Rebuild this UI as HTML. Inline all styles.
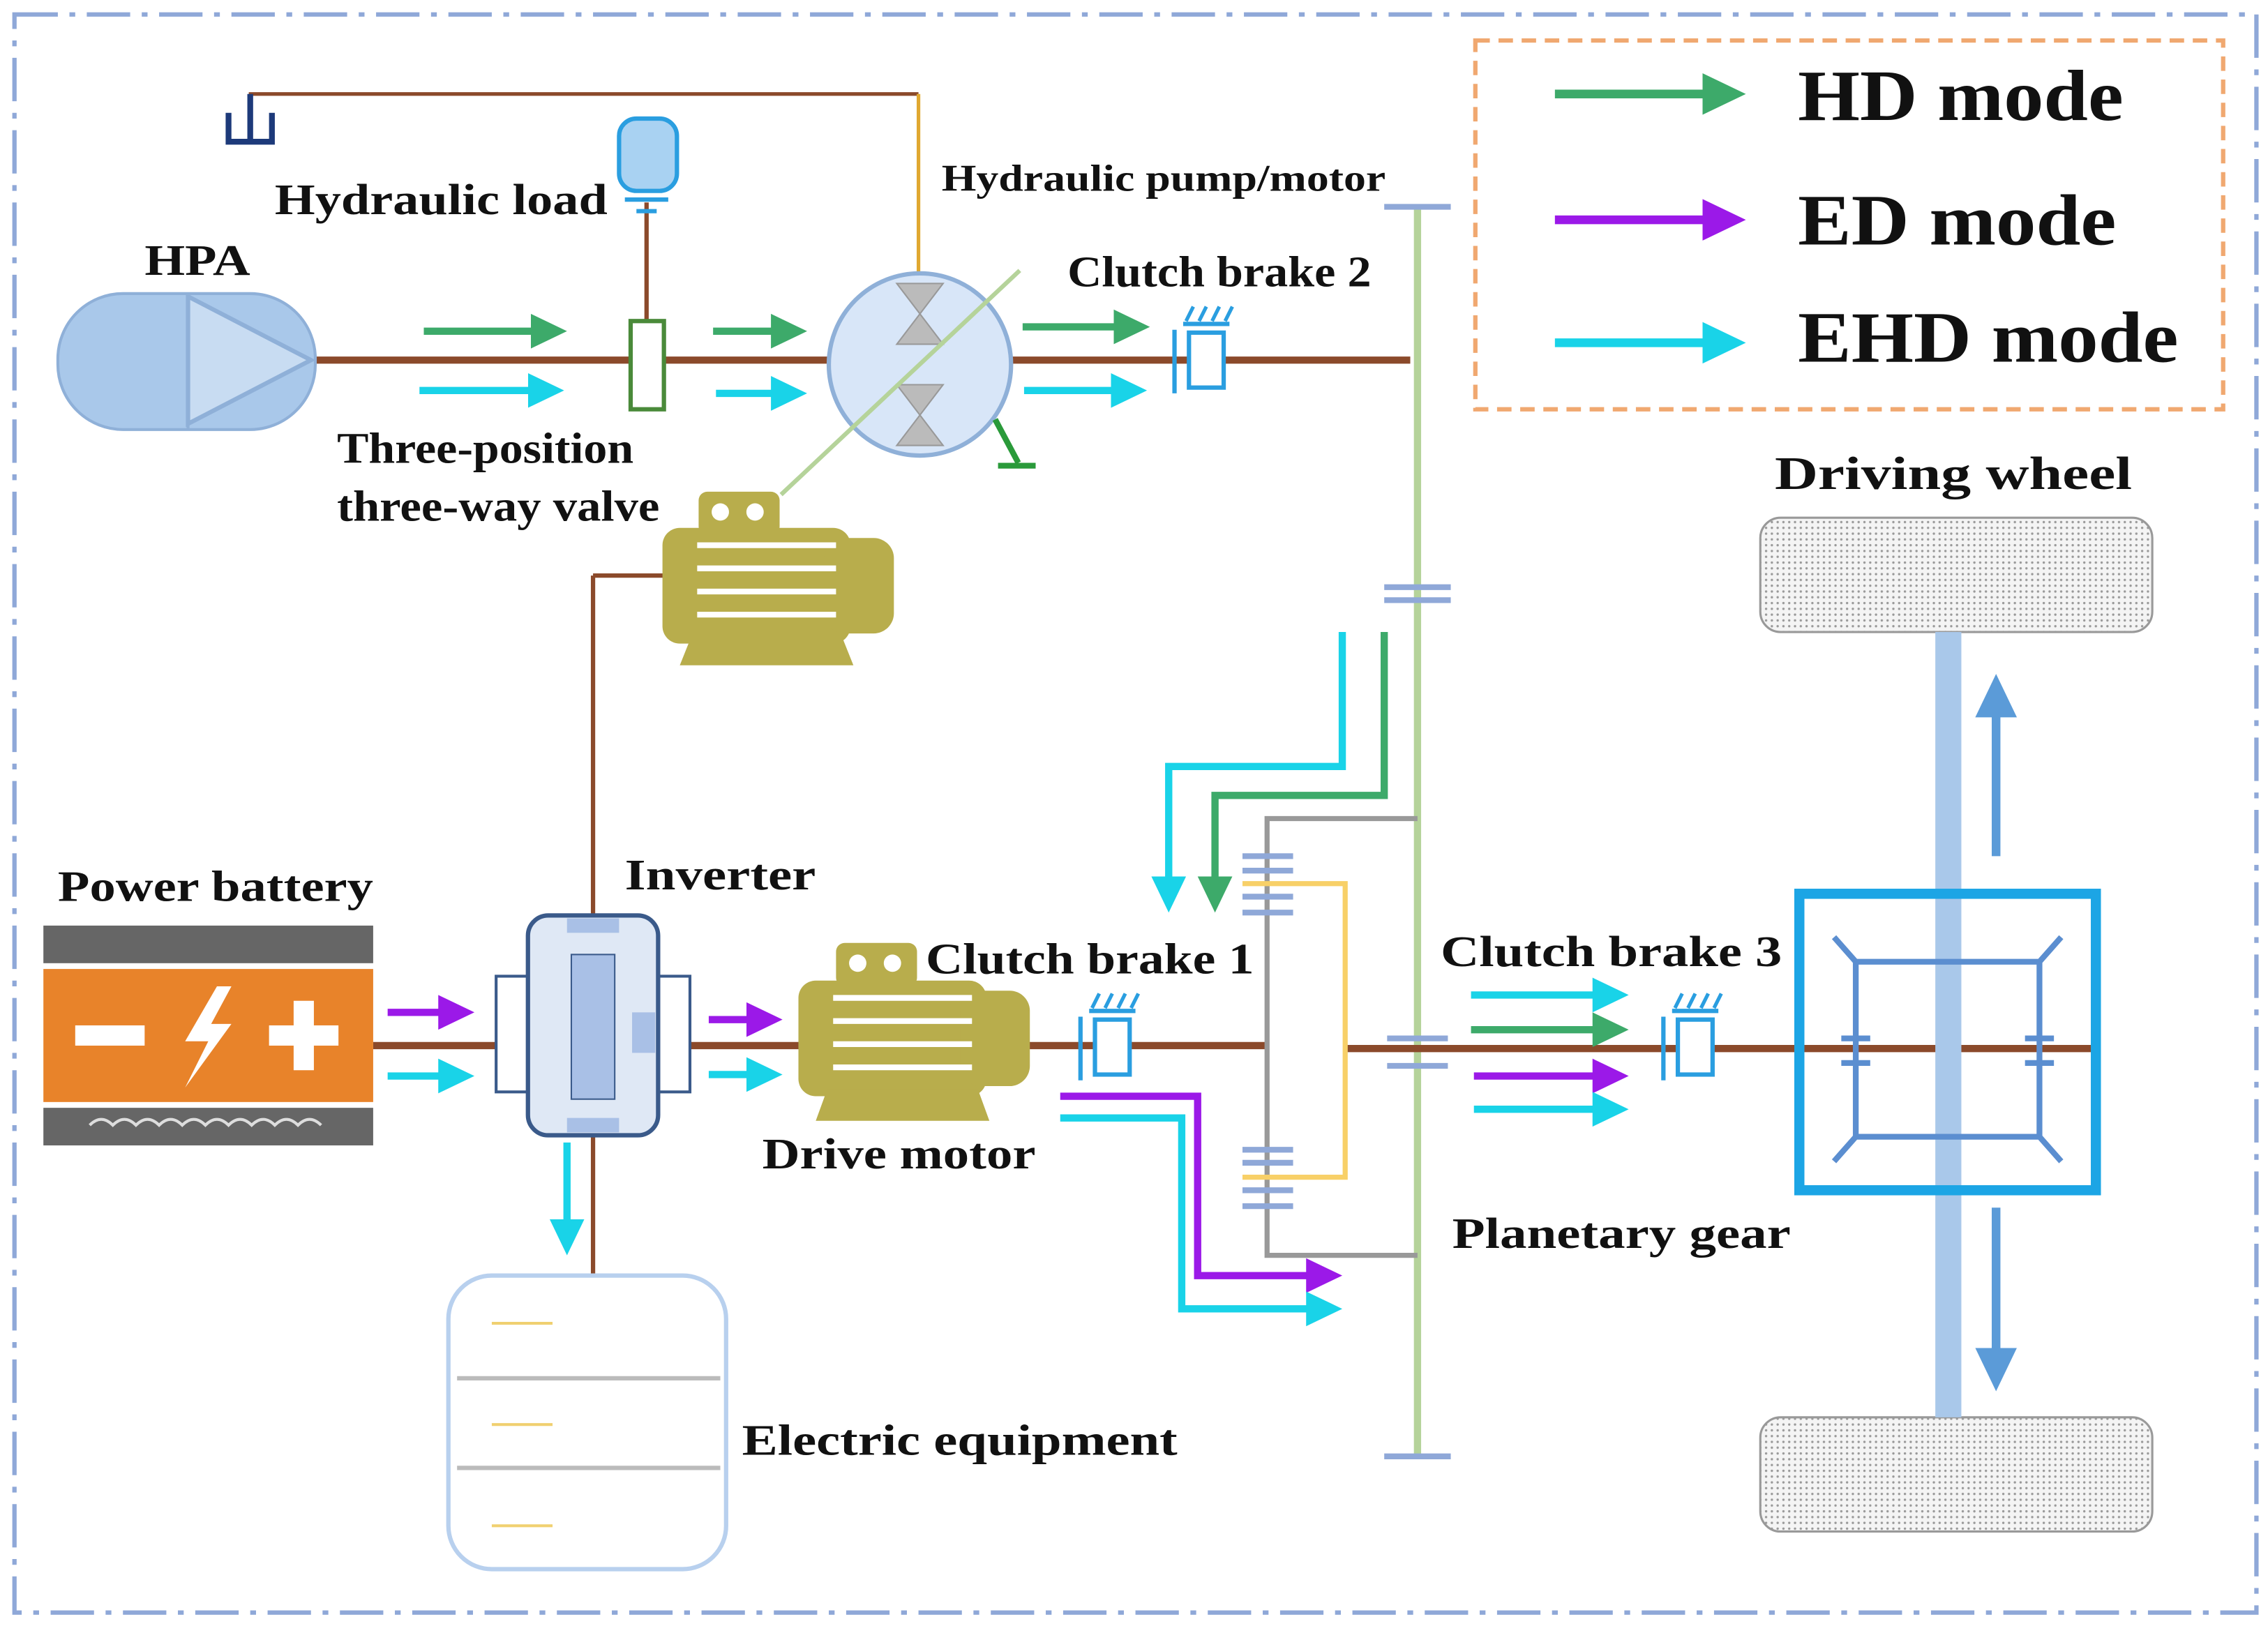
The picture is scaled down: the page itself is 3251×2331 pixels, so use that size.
<!DOCTYPE html>
<html><head><meta charset="utf-8"><style>
html,body{margin:0;padding:0;background:#fff;}
svg{display:block;}
text{font-family:"Liberation Serif",serif;font-weight:bold;fill:#111;}
</style></head><body>
<svg width="3251" height="2331" viewBox="0 0 1568 1124.3" preserveAspectRatio="none" xmlns="http://www.w3.org/2000/svg">
<defs>
<marker id="ag" markerWidth="6" markerHeight="6" refX="3" refY="3" orient="auto" markerUnits="strokeWidth"><path d="M0,0.6 L5,3 L0,5.4Z" fill="#3daa6a"/></marker>
<marker id="ac" markerWidth="6" markerHeight="6" refX="3" refY="3" orient="auto" markerUnits="strokeWidth"><path d="M0,0.6 L5,3 L0,5.4Z" fill="#19d3e8"/></marker>
<marker id="ap" markerWidth="6" markerHeight="6" refX="3" refY="3" orient="auto" markerUnits="strokeWidth"><path d="M0,0.6 L5,3 L0,5.4Z" fill="#9b19e8"/></marker>
<marker id="ab" markerWidth="6" markerHeight="6" refX="3" refY="3" orient="auto" markerUnits="strokeWidth"><path d="M0,0.6 L5,3 L0,5.4Z" fill="#5b9bd8"/></marker>
<pattern id="dots" width="4" height="4" patternUnits="userSpaceOnUse"><rect width="4" height="4" fill="#f4f4f4"/><circle cx="1" cy="1" r="0.8" fill="#999"/></pattern>
</defs>
<rect x="10" y="10" width="1550" height="1105" fill="none" stroke="#8fa8d8" stroke-width="3" stroke-dasharray="30,8,4,8"/>
<rect x="1020" y="28" width="517" height="255" fill="none" stroke="#f0a870" stroke-width="3" stroke-dasharray="10,6"/>
<line x1="1075" y1="65" x2="1195" y2="65" stroke="#3daa6a" stroke-width="6" marker-end="url(#ag)"/>
<line x1="1075" y1="152" x2="1195" y2="152" stroke="#9b19e8" stroke-width="6" marker-end="url(#ap)"/>
<line x1="1075" y1="237" x2="1195" y2="237" stroke="#19d3e8" stroke-width="6" marker-end="url(#ac)"/>
<g lengthAdjust="spacingAndGlyphs">
<text x="1243" y="83" font-size="50" textLength="225" lengthAdjust="spacingAndGlyphs">HD mode</text>
<text x="1243" y="169" font-size="50" textLength="220" lengthAdjust="spacingAndGlyphs">ED mode</text>
<text x="1243" y="250" font-size="50" textLength="263" lengthAdjust="spacingAndGlyphs">EHD mode</text>
</g>

<line x1="980" y1="143" x2="980" y2="1007" stroke="#b5d39a" stroke-width="5"/>
<line x1="957" y1="143" x2="1003" y2="143" stroke="#8fa8d8" stroke-width="4"/>
<line x1="957" y1="1007" x2="1003" y2="1007" stroke="#8fa8d8" stroke-width="4"/>
<line x1="957" y1="406" x2="1003" y2="406" stroke="#8fa8d8" stroke-width="4"/>
<line x1="957" y1="415" x2="1003" y2="415" stroke="#8fa8d8" stroke-width="4"/>
<line x1="959" y1="718" x2="1001" y2="718" stroke="#8fa8d8" stroke-width="4"/>
<line x1="959" y1="737" x2="1001" y2="737" stroke="#8fa8d8" stroke-width="4"/>

<polyline points="172,65 635,65" fill="none" stroke="#8b4a2b" stroke-width="2.5"/>
<polyline points="635,65 635,192" fill="none" stroke="#e0a830" stroke-width="2.5"/>
<path d="M158,78 V98 H188 V78 M173,65 V98" fill="none" stroke="#1d3a7a" stroke-width="4"/>

<line x1="218" y1="249" x2="975" y2="249" stroke="#8b4a2b" stroke-width="5"/>
<rect x="40" y="203" width="178" height="94" rx="45" fill="#a9c8ea" stroke="#8fb0d8" stroke-width="2"/>
<line x1="130" y1="203" x2="130" y2="297" stroke="#8fb0d8" stroke-width="2"/>
<path d="M130,205 L215,249 L130,293Z" fill="#c8dcf2" stroke="#8fb0d8" stroke-width="3"/>
<text x="100" y="190" font-size="30" textLength="73" lengthAdjust="spacingAndGlyphs">HPA</text>
<line x1="447" y1="140" x2="447" y2="222" stroke="#8b4a2b" stroke-width="3"/>
<rect x="428" y="82" width="40" height="50" rx="12" fill="#a9d2f2" stroke="#2a9ee0" stroke-width="3"/>
<line x1="432" y1="138" x2="462" y2="138" stroke="#2a9ee0" stroke-width="3"/>
<line x1="440" y1="146" x2="454" y2="146" stroke="#2a9ee0" stroke-width="3"/>
<text x="190" y="148" font-size="30" textLength="230" lengthAdjust="spacingAndGlyphs">Hydraulic load</text>
<rect x="436" y="222" width="23" height="61" fill="#fff" stroke="#4a8a3a" stroke-width="3"/>
<text x="233" y="320" font-size="30" textLength="205" lengthAdjust="spacingAndGlyphs">Three-position</text>
<text x="233" y="360" font-size="30" textLength="223" lengthAdjust="spacingAndGlyphs">three-way valve</text>
<circle cx="636" cy="252" r="63" fill="#d8e6f8" stroke="#8fb0d8" stroke-width="3"/>
<path d="M620,196 H652 L620,238 H652Z M620,266 H652 L620,308 H652Z" fill="#bbb" stroke="#999"/>
<line x1="540" y1="342" x2="705" y2="187" stroke="#b5d39a" stroke-width="3"/>
<path d="M688,290 L704,320" stroke="#2a9a3a" stroke-width="4" fill="none"/>
<path d="M690,322 H716" stroke="#2a9a3a" stroke-width="4"/>
<text x="651" y="132" font-size="26" textLength="307" lengthAdjust="spacingAndGlyphs">Hydraulic pump/motor</text>
<rect x="822" y="230" width="24" height="38" fill="#fff" stroke="#2a9ee0" stroke-width="3"/>
<line x1="812" y1="228" x2="812" y2="272" stroke="#2a9ee0" stroke-width="3"/>
<line x1="818" y1="224" x2="850" y2="224" stroke="#2a9ee0" stroke-width="3"/>
<path d="M820,222 l5,-10 M829,222 l5,-10 M838,222 l5,-10 M847,222 l5,-10" stroke="#2a9ee0" stroke-width="2.5"/>
<text x="738" y="198" font-size="30" textLength="210" lengthAdjust="spacingAndGlyphs">Clutch brake 2</text>
<g stroke-width="5">
<line x1="293" y1="229" x2="382" y2="229" stroke="#3daa6a" marker-end="url(#ag)"/>
<line x1="493" y1="229" x2="548" y2="229" stroke="#3daa6a" marker-end="url(#ag)"/>
<line x1="707" y1="226" x2="785" y2="226" stroke="#3daa6a" marker-end="url(#ag)"/>
<line x1="290" y1="270" x2="380" y2="270" stroke="#19d3e8" marker-end="url(#ac)"/>
<line x1="495" y1="272" x2="548" y2="272" stroke="#19d3e8" marker-end="url(#ac)"/>
<line x1="708" y1="270" x2="783" y2="270" stroke="#19d3e8" marker-end="url(#ac)"/>
</g>

<line x1="410" y1="398" x2="460" y2="398" stroke="#8b4a2b" stroke-width="3"/>
<line x1="410" y1="398" x2="410" y2="635" stroke="#8b4a2b" stroke-width="3"/>
<g>
<rect x="483" y="340" width="56" height="30" rx="6" fill="#b8ad4c"/>
<circle cx="498" cy="354" r="6" fill="#fff"/><circle cx="522" cy="354" r="6" fill="#fff"/>
<rect x="458" y="365" width="130" height="80" rx="12" fill="#b8ad4c"/>
<rect x="570" y="372" width="48" height="66" rx="14" fill="#b8ad4c"/>
<path d="M478,440 L470,460 H590 L582,440Z" fill="#b8ad4c"/>
<g stroke="#fff" stroke-width="4"><line x1="482" y1="377" x2="578" y2="377"/><line x1="482" y1="393" x2="578" y2="393"/><line x1="482" y1="409" x2="578" y2="409"/><line x1="482" y1="425" x2="578" y2="425"/></g>
</g>

<line x1="258" y1="723" x2="876" y2="723" stroke="#8b4a2b" stroke-width="5"/>
<line x1="930" y1="725" x2="1448" y2="725" stroke="#8b4a2b" stroke-width="5"/>
<rect x="30" y="640" width="228" height="26" fill="#666"/>
<rect x="30" y="670" width="228" height="92" fill="#e8832a"/>
<rect x="30" y="766" width="228" height="26" fill="#666"/>
<path d="M62,778 q8,-8 16,0 q8,-8 16,0 q8,-8 16,0 q8,-8 16,0 q8,-8 16,0 q8,-8 16,0 q8,-8 16,0 q8,-8 16,0 q8,-8 16,0 q8,-8 16,0" fill="none" stroke="#ddd" stroke-width="2"/>
<rect x="52" y="709" width="48" height="14" fill="#fff"/>
<rect x="186" y="709" width="48" height="14" fill="#fff"/><rect x="203" y="692" width="14" height="48" fill="#fff"/>
<path d="M150,682 L128,720 H144 L128,752 L160,708 H146 L160,682Z" fill="#fff"/>
<text x="40" y="623" font-size="30" textLength="218" lengthAdjust="spacingAndGlyphs">Power battery</text>
<line x1="410" y1="785" x2="410" y2="882" stroke="#8b4a2b" stroke-width="3"/>
<rect x="343" y="675" width="22" height="80" fill="#fff" stroke="#3a5a8a" stroke-width="2"/>
<rect x="455" y="675" width="22" height="80" fill="#fff" stroke="#3a5a8a" stroke-width="2"/>
<rect x="365" y="633" width="90" height="152" rx="14" fill="#dfe8f5" stroke="#3a5a8a" stroke-width="3"/>
<rect x="395" y="660" width="30" height="100" fill="#a9c0e6" stroke="#3a5a8a"/>
<rect x="392" y="635" width="36" height="10" fill="#a9c0e6"/><rect x="392" y="773" width="36" height="10" fill="#a9c0e6"/>
<rect x="437" y="700" width="16" height="28" fill="#a9c0e6"/>
<text x="432" y="615" font-size="30" textLength="132" lengthAdjust="spacingAndGlyphs">Inverter</text>
<g>
<rect x="578" y="652" width="56" height="30" rx="6" fill="#b8ad4c"/>
<circle cx="593" cy="666" r="6" fill="#fff"/><circle cx="617" cy="666" r="6" fill="#fff"/>
<rect x="552" y="678" width="130" height="80" rx="12" fill="#b8ad4c"/>
<rect x="664" y="685" width="48" height="66" rx="14" fill="#b8ad4c"/>
<path d="M572,753 L564,775 H684 L676,753Z" fill="#b8ad4c"/>
<g stroke="#fff" stroke-width="4"><line x1="576" y1="690" x2="672" y2="690"/><line x1="576" y1="706" x2="672" y2="706"/><line x1="576" y1="722" x2="672" y2="722"/><line x1="576" y1="738" x2="672" y2="738"/></g>
</g>
<text x="527" y="808" font-size="30" textLength="189" lengthAdjust="spacingAndGlyphs">Drive motor</text>
<rect x="757" y="705" width="24" height="38" fill="#fff" stroke="#2a9ee0" stroke-width="3"/>
<line x1="747" y1="703" x2="747" y2="747" stroke="#2a9ee0" stroke-width="3"/>
<line x1="753" y1="699" x2="785" y2="699" stroke="#2a9ee0" stroke-width="3"/>
<path d="M755,697 l5,-10 M764,697 l5,-10 M773,697 l5,-10 M782,697 l5,-10" stroke="#2a9ee0" stroke-width="2.5"/>
<text x="640" y="673" font-size="30" textLength="227" lengthAdjust="spacingAndGlyphs">Clutch brake 1</text>
<rect x="310" y="882" width="192" height="203" rx="30" fill="#fff" stroke="#b8d0ee" stroke-width="3"/>
<line x1="316" y1="953" x2="498" y2="953" stroke="#bbb" stroke-width="3"/>
<line x1="316" y1="1015" x2="498" y2="1015" stroke="#bbb" stroke-width="3"/>
<g stroke="#f0d070" stroke-width="2"><line x1="340" y1="915" x2="382" y2="915"/><line x1="340" y1="985" x2="382" y2="985"/><line x1="340" y1="1055" x2="382" y2="1055"/></g>
<text x="513" y="1006" font-size="30" textLength="301" lengthAdjust="spacingAndGlyphs">Electric equipment</text>

<polyline points="980,566 876,566 876,868 980,868" fill="none" stroke="#999" stroke-width="3.5"/>
<polyline points="859,611 930,611 930,814 859,814" fill="none" stroke="#f8d068" stroke-width="3.5"/>
<g stroke="#8fa8d8" stroke-width="4">
<line x1="859" y1="592" x2="894" y2="592"/><line x1="859" y1="602" x2="894" y2="602"/>
<line x1="859" y1="620" x2="894" y2="620"/><line x1="859" y1="631" x2="894" y2="631"/>
<line x1="859" y1="795" x2="894" y2="795"/><line x1="859" y1="804" x2="894" y2="804"/>
<line x1="859" y1="823" x2="894" y2="823"/><line x1="859" y1="834" x2="894" y2="834"/>
</g>
<text x="1004" y="863" font-size="30" textLength="234" lengthAdjust="spacingAndGlyphs">Planetary gear</text>

<rect x="1160" y="705" width="24" height="38" fill="#fff" stroke="#2a9ee0" stroke-width="3"/>
<line x1="1150" y1="703" x2="1150" y2="747" stroke="#2a9ee0" stroke-width="3"/>
<line x1="1156" y1="699" x2="1188" y2="699" stroke="#2a9ee0" stroke-width="3"/>
<path d="M1158,697 l5,-10 M1167,697 l5,-10 M1176,697 l5,-10 M1185,697 l5,-10" stroke="#2a9ee0" stroke-width="2.5"/>
<text x="996" y="668" font-size="30" textLength="236" lengthAdjust="spacingAndGlyphs">Clutch brake 3</text>

<text x="1227" y="338" font-size="32" textLength="247" lengthAdjust="spacingAndGlyphs">Driving wheel</text>
<rect x="1217" y="358" width="271" height="79" rx="14" fill="url(#dots)" stroke="#999" stroke-width="1.5"/>
<rect x="1217" y="980" width="271" height="79" rx="14" fill="url(#dots)" stroke="#999" stroke-width="1.5"/>
<rect x="1338" y="437" width="18" height="543" fill="#a9c8ea"/>
<rect x="1244" y="618" width="205" height="205" fill="none" stroke="#1ca5e5" stroke-width="7"/>
<g stroke="#5b8ed0" stroke-width="4" fill="none">
<path d="M1268,648 L1283,665 H1410 L1425,648"/>
<path d="M1268,803 L1283,786 H1410 L1425,803"/>
<path d="M1283,665 V786 M1410,665 V786"/>
<line x1="1273" y1="718" x2="1293" y2="718"/><line x1="1273" y1="735" x2="1293" y2="735"/>
<line x1="1400" y1="718" x2="1420" y2="718"/><line x1="1400" y1="735" x2="1420" y2="735"/>
</g>
<line x1="1380" y1="592" x2="1380" y2="478" stroke="#5b9bd8" stroke-width="6" marker-end="url(#ab)"/>
<line x1="1380" y1="835" x2="1380" y2="950" stroke="#5b9bd8" stroke-width="6" marker-end="url(#ab)"/>

<g stroke-width="5" fill="none">
<line x1="268" y1="700" x2="318" y2="700" stroke="#9b19e8" marker-end="url(#ap)"/>
<line x1="268" y1="744" x2="318" y2="744" stroke="#19d3e8" marker-end="url(#ac)"/>
<line x1="490" y1="705" x2="531" y2="705" stroke="#9b19e8" marker-end="url(#ap)"/>
<line x1="490" y1="743" x2="531" y2="743" stroke="#19d3e8" marker-end="url(#ac)"/>
<line x1="392" y1="790" x2="392" y2="858" stroke="#19d3e8" marker-end="url(#ac)"/>
<polyline points="928,437 928,530 808,530 808,621" stroke="#19d3e8" marker-end="url(#ac)"/>
<polyline points="957,437 957,550 840,550 840,621" stroke="#3daa6a" marker-end="url(#ag)"/>
<polyline points="733,758 828,758 828,882 918,882" stroke="#9b19e8" marker-end="url(#ap)"/>
<polyline points="733,773 817,773 817,905 918,905" stroke="#19d3e8" marker-end="url(#ac)"/>
<line x1="1017" y1="688" x2="1116" y2="688" stroke="#19d3e8" marker-end="url(#ac)"/>
<line x1="1017" y1="712" x2="1116" y2="712" stroke="#3daa6a" marker-end="url(#ag)"/>
<line x1="1019" y1="744" x2="1116" y2="744" stroke="#9b19e8" marker-end="url(#ap)"/>
<line x1="1019" y1="767" x2="1116" y2="767" stroke="#19d3e8" marker-end="url(#ac)"/>
</g>
</svg>
</body></html>
